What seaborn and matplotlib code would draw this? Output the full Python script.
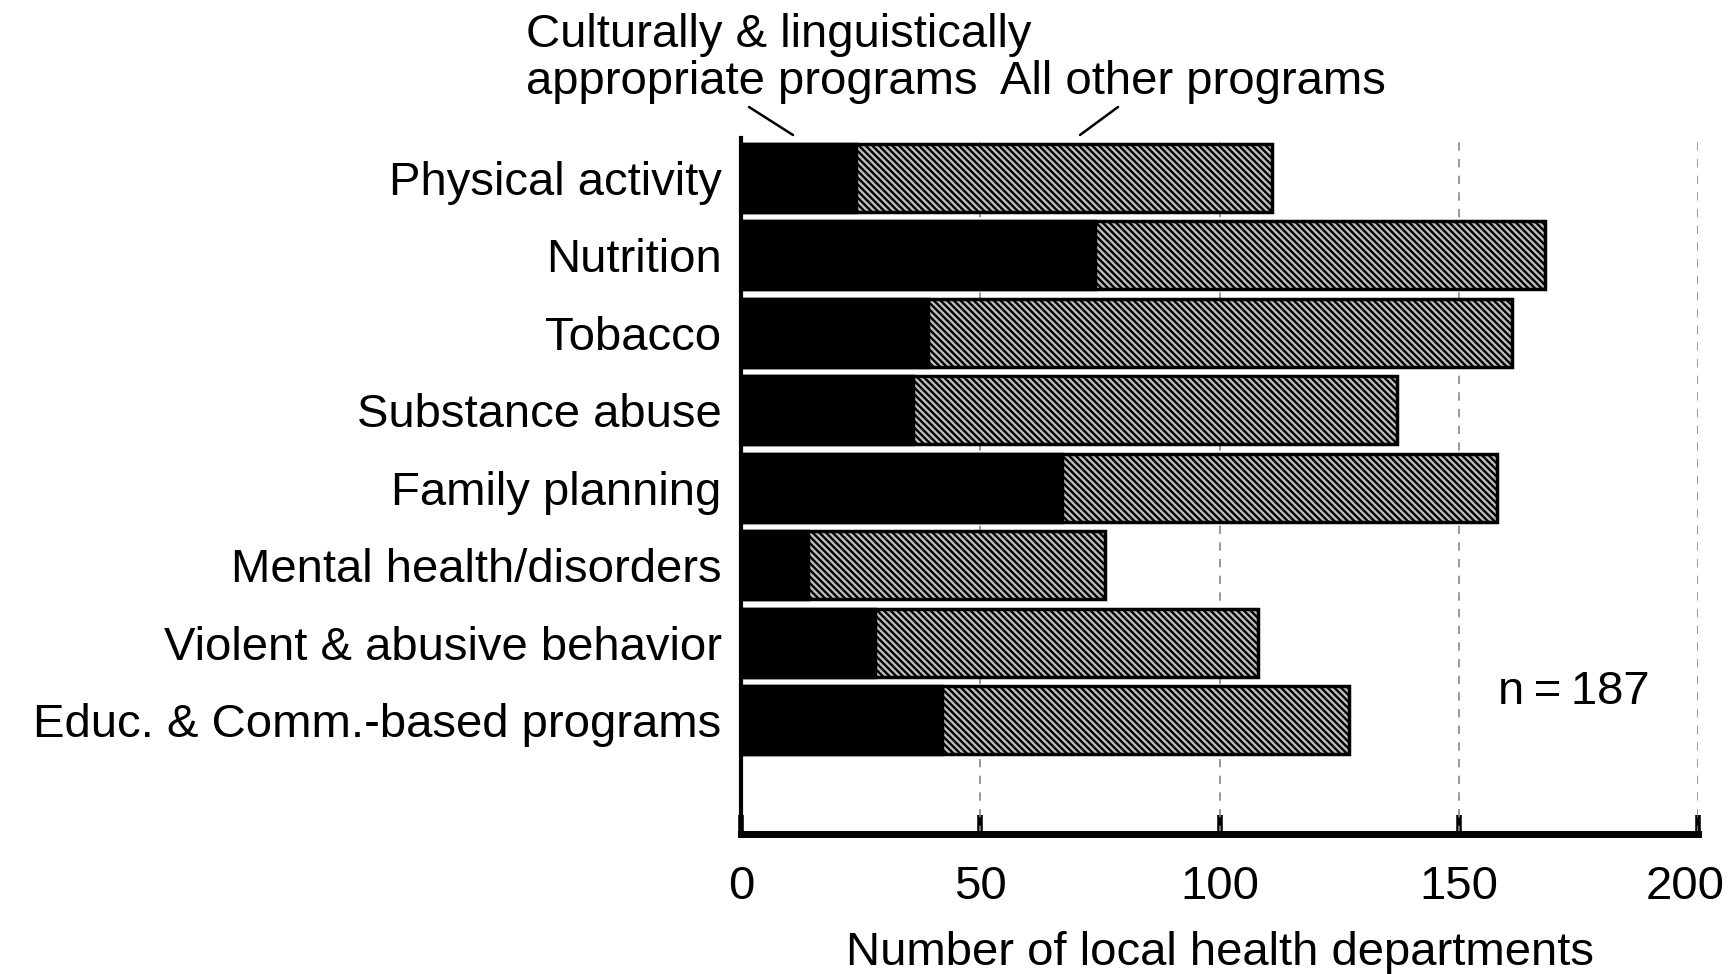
import pandas as pd
import seaborn as sns
import matplotlib.pyplot as plt
from matplotlib.transforms import ScaledTranslation

# Program areas and counts of local health departments
categories = ['Physical activity', 'Nutrition', 'Tobacco', 'Substance abuse',
              'Family planning', 'Mental health/disorders',
              'Violent & abusive behavior', 'Educ. & Comm.-based programs']
cultural = [24, 74, 39, 36, 67, 14, 28, 42]
all_programs = [111, 168, 161, 137, 158, 76, 108, 127]
x_ticks = [0, 50, 100, 150, 200]

df = pd.DataFrame({'category': categories, 'cultural': cultural, 'total': all_programs})

sns.set_style('white')
plt.rcParams['font.family'] = ['Liberation Sans', 'DejaVu Sans']
plt.rcParams['text.color'] = 'black'
plt.rcParams['hatch.linewidth'] = 1.7
plt.rcParams['hatch.color'] = 'black'

fs = 34
fig = plt.figure(figsize=(17.33, 9.74), dpi=100)
ax = fig.add_axes([0.4276, 0.1437, 0.5524, 0.7145])

# All programs bar (hatched), then the culturally appropriate part in black
sns.barplot(data=df, x='total', y='category', orient='h', color='#c0c0c0',
            saturation=1, width=0.88, edgecolor='black', linewidth=2.5,
            hatch='\\\\\\\\\\', ax=ax, zorder=3)
sns.barplot(data=df, x='cultural', y='category', orient='h', color='black',
            saturation=1, width=0.88, edgecolor='black', linewidth=2.5,
            ax=ax, zorder=4)

ax.set_xlim(0, 200)
ax.set_ylim(8.47, -0.51)
ax.set_xticks(x_ticks)
ax.set_xticklabels([str(t) for t in x_ticks], fontsize=fs, color='black')
ax.tick_params(axis='x', bottom=True, direction='in', length=14, width=4,
               pad=22, color='black')
ax.tick_params(axis='y', left=False, length=0, pad=14, labelsize=fs, labelcolor='black')
ax.set_ylabel('')
ax.set_xlabel('Number of local health departments', fontsize=fs, labelpad=16, color='black')

# keep the last tick label inside the figure
last = ax.get_xticklabels()[-1]
last.set_transform(last.get_transform() + ScaledTranslation(-0.13, 0, fig.dpi_scale_trans))

for x in x_ticks[1:]:
    ax.axvline(x, color='#888888', linestyle=(0, (5, 5)), linewidth=1.2, zorder=1)

for side in ['top', 'right']:
    ax.spines[side].set_visible(False)
ax.spines['left'].set_linewidth(3)
ax.spines['bottom'].set_linewidth(5)
ax.spines['left'].set_color('black')
ax.spines['bottom'].set_color('black')

ax.text(174, 6.64, 'n\u2009=\u2009187', fontsize=fs, ha='center', va='center')

# Series labels with leader lines
fig.text(526 / 1733, 1 - 35 / 974, 'Culturally & linguistically', fontsize=fs,
         ha='left', va='center')
fig.text(526 / 1733, 1 - 82 / 974, 'appropriate programs', fontsize=fs,
         ha='left', va='center')
fig.text(1000 / 1733, 1 - 82 / 974, 'All other programs', fontsize=fs,
         ha='left', va='center')
fig.add_artist(plt.Line2D([749 / 1733, 793 / 1733], [1 - 107 / 974, 1 - 135 / 974],
                          color='black', linewidth=1.8))
fig.add_artist(plt.Line2D([1118 / 1733, 1080 / 1733], [1 - 107 / 974, 1 - 135 / 974],
                          color='black', linewidth=1.8))

fig.savefig('out.png', dpi=100)
